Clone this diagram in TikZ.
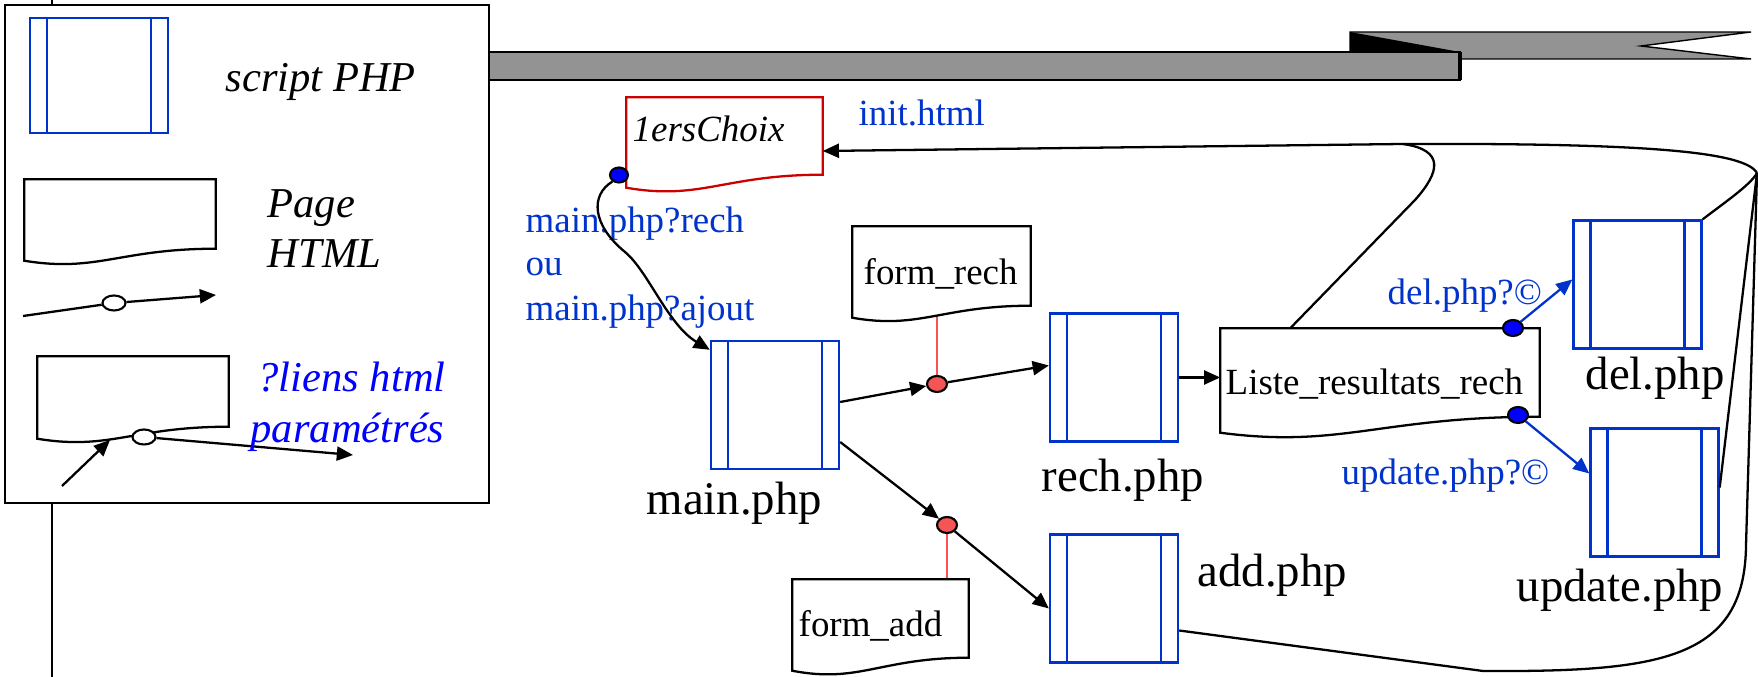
\documentclass[tikz,border=0pt]{standalone}
\usepackage{fontspec}
\setmainfont{Liberation Serif}
\usetikzlibrary{arrows.meta,calc,shapes.geometric,backgrounds}
\definecolor{phpblue}{RGB}{0,51,204}
\definecolor{textblue}{RGB}{0,51,204}
\definecolor{legblue}{RGB}{0,0,255}
\definecolor{dotblue}{RGB}{0,0,255}
\definecolor{dotred}{RGB}{245,85,85}
\definecolor{linered}{RGB}{255,80,80}
\definecolor{choixred}{RGB}{204,0,0}
\definecolor{bargray}{RGB}{147,147,147}
\newcommand{\wavydoc}[3]{\draw[#2] (#1.north west) -- (#1.north east) -- (#1.south east)
  .. controls ($(#1.south west)!0.5!(#1.south east)$) and ($(#1.south west)!0.38!(#1.south east)+(0,2*#3)$)
  .. ($(#1.south west)+(0,#3)$) -- cycle;}
\begin{document}
\begin{tikzpicture}[x=0.01cm,y=-0.01cm,
  conn/.style={line width=0.65pt},
  arr/.style={-{Triangle[length=4.6pt,width=4pt]}},
  blueconn/.style={line width=0.65pt,draw=phpblue,-{Triangle[length=4.6pt,width=4pt]},phpblue},
  redline/.style={line width=0.6pt,draw=linered},
  php/.style={draw=phpblue,line width=0.65pt,rectangle,inner sep=0pt,
    minimum width=1.28cm,minimum height=1.28cm,
    path picture={\draw[phpblue,line width=0.65pt]
      ([xshift=0.17cm]path picture bounding box.north west) -- ([xshift=0.17cm]path picture bounding box.south west)
      ([xshift=-0.17cm]path picture bounding box.north east) -- ([xshift=-0.17cm]path picture bounding box.south east);}},
  body/.style={rectangle,inner sep=0pt,draw=none},
  docline/.style={line width=0.65pt,draw=black,fill=white},
  dot/.style={ellipse,draw=black,line width=0.6pt,inner sep=0pt,minimum width=0.2cm,minimum height=0.16cm},
  txt/.style={inner sep=0pt,anchor=base west},
  big/.style={font=\fontsize{13.3pt}{16pt}\selectfont},
  small/.style={font=\fontsize{10.5pt}{12.6pt}\selectfont},
  leg/.style={font=\fontsize{12.1pt}{14.5pt}\selectfont}]
\useasboundingbox (0,0) rectangle (1758,677);

% vertical line behind legend
\draw[conn] (52,0) -- (52,677);

% banner
\draw[line width=0.4pt,fill=bargray] (1350,32) -- (1751,32) -- (1641,46) -- (1751,59) -- (1460,59) -- (1460,52) -- (1350,52) -- cycle;
\fill[black] (1350,32) -- (1460,52) -- (1350,52) -- cycle;
\draw[line width=0.5pt,fill=bargray] (489,52) rectangle (1460,80);
\draw[line width=1.4pt] (1460,52) -- (1460,80);

% legend
\node[draw,line width=0.65pt,fill=white,rectangle,inner sep=0pt,minimum width=4.84cm,minimum height=4.98cm] (legend) at (247,254) {};
\node[php,minimum width=1.38cm,minimum height=1.15cm] (lphp) at (99,75.5) {};
\node[body,minimum width=1.90cm,minimum height=0.68cm] (ldoc1) at (120,214) {};
\wavydoc{ldoc1}{docline}{12}
\node[body,minimum width=1.90cm,minimum height=0.69cm] (ldoc2) at (133,391.5) {};
\wavydoc{ldoc2}{docline}{12}
\node[dot,fill=white,minimum width=0.23cm,minimum height=0.15cm] (le1) at (114,303) {};
\node[dot,fill=white,minimum width=0.23cm,minimum height=0.15cm] (le2) at (144,437) {};
\coordinate (la1) at (23,316);
\coordinate (la2) at (216,295);
\coordinate (lb0) at (62,486);
\coordinate (lb1) at (110,440);
\coordinate (lb2) at (353,455);
\draw[conn] (la1) -- (le1);
\draw[conn,arr] (le1) -- (la2);
\draw[conn,arr] (lb0) -- (lb1);
\draw[conn,arr] (le2) -- (lb2);
\begin{pgfonlayer}{background}
\draw[conn] (le1) -- ($(ldoc1.south west)+(80,0)$);
\end{pgfonlayer}
\node[txt,leg] (tscript) at (225,92) {\itshape script PHP};
\node[txt,leg] (tpage) at (267,218) {\itshape Page};
\node[txt,leg] (thtml) at (267,268) {\itshape HTML};
\node[txt,leg,text=legblue] (tliens) at (257,392) {\itshape ?liens html};
\node[txt,leg,text=legblue] (tparam) at (250,443) {\itshape paramétrés};

% PHP scripts
\node[php] (main) at (775,405) {};
\node[php] (rech) at (1114,377.5) {};
\node[php] (add) at (1114,598.5) {};
\node[php] (del) at (1637.5,284.5) {};
\node[php] (upd) at (1654.5,492.5) {};

% HTML pages
\node[body,minimum width=1.95cm,minimum height=0.76cm] (choix) at (724.5,136) {};
\wavydoc{choix}{docline,draw=choixred}{13}
\node[body,minimum width=1.77cm,minimum height=0.78cm] (formrech) at (941.5,266) {};
\wavydoc{formrech}{docline}{12}
\node[body,minimum width=1.75cm,minimum height=0.77cm] (formadd) at (880.5,618.5) {};
\wavydoc{formadd}{docline}{13}
\node[body,minimum width=3.18cm,minimum height=0.87cm] (liste) at (1380,372.5) {};
\wavydoc{liste}{docline}{16}

% dots
\node[dot,fill=dotblue,minimum width=0.18cm,minimum height=0.15cm] (d0) at (619,175) {};
\node[dot,fill=dotred] (r1) at (937,384) {};
\node[dot,fill=dotred] (r2) at (947,525) {};
\node[dot,fill=dotblue] (b1) at (1513,328) {};
\node[dot,fill=dotblue] (b2) at (1518,415) {};

% texts
\node[txt,small] (tchoix) at (632,142) {\itshape 1ersChoix};
\node[txt,small,text=textblue] (tinit) at (858,126) {init.html};
\node[txt,small,text=textblue] (tq1) at (525,233) {main.php?rech};
\node[txt,small,text=textblue] (tq2) at (525,276) {ou};
\node[txt,small,text=textblue] (tq3) at (525,321) {main.php?ajout};
\node[txt,small] (tfr) at (863,285) {form\_rech};
\node[txt,small] (tfa) at (798,637) {form\_add};
\node[txt,small] (tliste) at (1225,395) {Liste\_resultats\_rech};
\node[txt,small,text=textblue] (tdelq) at (1387,305) {del.php?©};
\node[txt,small,text=textblue] (tupdq) at (1341,485) {update.php?©};
\node[txt,big] (lmain) at (646,515) {main.php};
\node[txt,big] (lrech) at (1041,492) {rech.php};
\node[txt,big] (ladd) at (1197,587) {add.php};
\node[txt,big] (ldel) at (1585,390) {del.php};
\node[txt,big] (lupd) at (1516,602) {update.php};

% red links to forms
\begin{pgfonlayer}{background}
\draw[redline] (r1) -- (r1 |- formrech.south);
\draw[redline] (r2) -- (r2 |- formadd.north);
\end{pgfonlayer}

% connectors
\draw[conn,arr] (d0.225) .. controls (590,195) and (592,225) .. (625,252)
  .. controls (648,271) and (668,325) .. ($(main.north west)+(0,10)$);
\draw[conn,arr] ($(main.east)+(0,-3)$) -- (r1);
\draw[conn,arr] (r1) -- ($(rech.west)+(0,-12)$);
\draw[conn,arr] ($(main.east)+(0,37)$) -- (r2);
\draw[conn,arr] (r2) -- ($(add.west)+(0,10)$);
\draw[conn,arr] (rech.east) -- (rech.east -| liste.west);
\draw[blueconn] (b1) -- ($(del.west)+(0,-5)$);
\draw[blueconn] (b2) -- ($(upd.west)+(0,-19)$);

% return links to 1ersChoix
\coordinate (j) at (1403,144);
\coordinate (m) at (1757,173);
\draw[conn,arr] (m) .. controls (1745,152) and (1650,143) .. (j) -- ($(choix.east)+(0,15)$);
\draw[conn] ($(liste.north west)+(70,0)$) -- (1415,200) .. controls (1440,172) and (1445,150) .. (j);
\draw[conn] (del.north east) .. controls (1728,200) and (1750,185) .. (m);
\draw[conn] ($(upd.east)+(0,-5)$) -- (m);
\draw[conn] ($(add.east)+(0,32)$) -- (1483,671) .. controls (1660,672) and (1745,660) .. (1746,545) -- (m);
\end{tikzpicture}
\end{document}
